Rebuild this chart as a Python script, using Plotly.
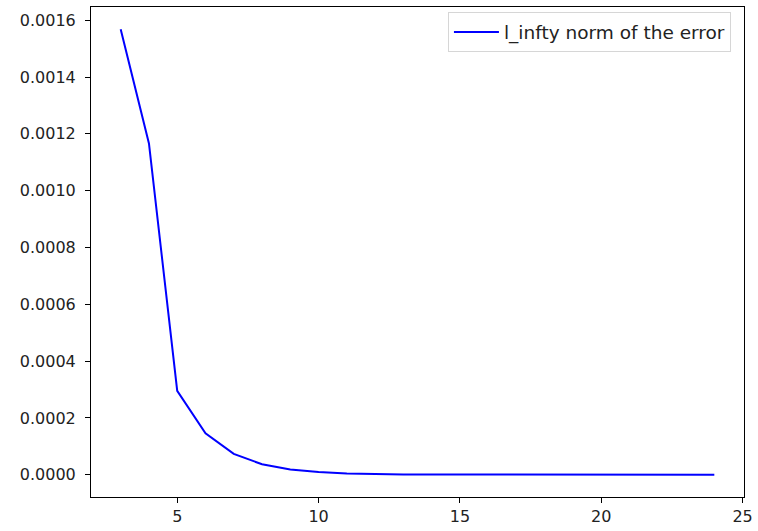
import plotly.graph_objects as go

# Data
n_values = [3, 4, 5, 6, 7, 8, 9, 10, 11, 12, 13, 14, 15, 16, 17, 18, 19, 20, 21, 22, 23, 24]
linf_error = [0.001568, 0.001166, 0.000295, 0.000146, 0.0000735, 0.0000368, 0.0000183,
              0.0000092, 0.0000046, 0.0000023, 0.00000115, 0.00000057, 0.00000029,
              0.00000014, 0.00000007, 0.000000036, 0.000000018, 0.000000009,
              0.0000000045, 0.0000000022, 0.0000000011, 0.00000000056]
series_name = "l_infty norm of the error"

x_ticks = [5, 10, 15, 20, 25]
y_ticks = [0.0, 0.0002, 0.0004, 0.0006, 0.0008, 0.0010, 0.0012, 0.0014, 0.0016]

fig = go.Figure()
fig.add_trace(go.Scatter(
    x=n_values, y=linf_error, mode="lines", name=series_name,
    line=dict(color="#0000ff", width=2),
))

xmin, xmax = min(n_values), max(n_values)
ymin, ymax = min(linf_error), max(linf_error)
xpad = 0.05 * (xmax - xmin)
ypad = 0.05 * (ymax - ymin)

axis_common = dict(
    showline=True, linecolor="black", linewidth=1, mirror=True,
    ticks="outside", ticklen=5, tickwidth=1, tickcolor="black",
    showgrid=False, zeroline=False, ticklabeloverflow="allow",
    tickfont=dict(family="DejaVu Sans", size=16, color="#222222"),
)

fig.update_layout(
    width=758, height=531,
    margin=dict(l=91, r=5, t=7, b=34),
    paper_bgcolor="white", plot_bgcolor="white",
    font=dict(family="DejaVu Sans", size=16, color="#222222"),
    showlegend=True,
    legend=dict(
        x=0.98, y=0.989, xanchor="right", yanchor="top",
        bordercolor="#d6d6d6", borderwidth=1, bgcolor="rgba(255,255,255,0.8)",
        font=dict(family="DejaVu Sans", size=18.5, color="#222222"),
        itemwidth=45,
    ),
    xaxis=dict(range=[xmin - xpad, xmax + xpad], tickvals=x_ticks, **axis_common),
    yaxis=dict(range=[ymin - ypad, ymax + ypad], tickvals=y_ticks, tickformat=".4f",
               ticklabelstandoff=6, **axis_common),
)

fig.write_html("out.html")
